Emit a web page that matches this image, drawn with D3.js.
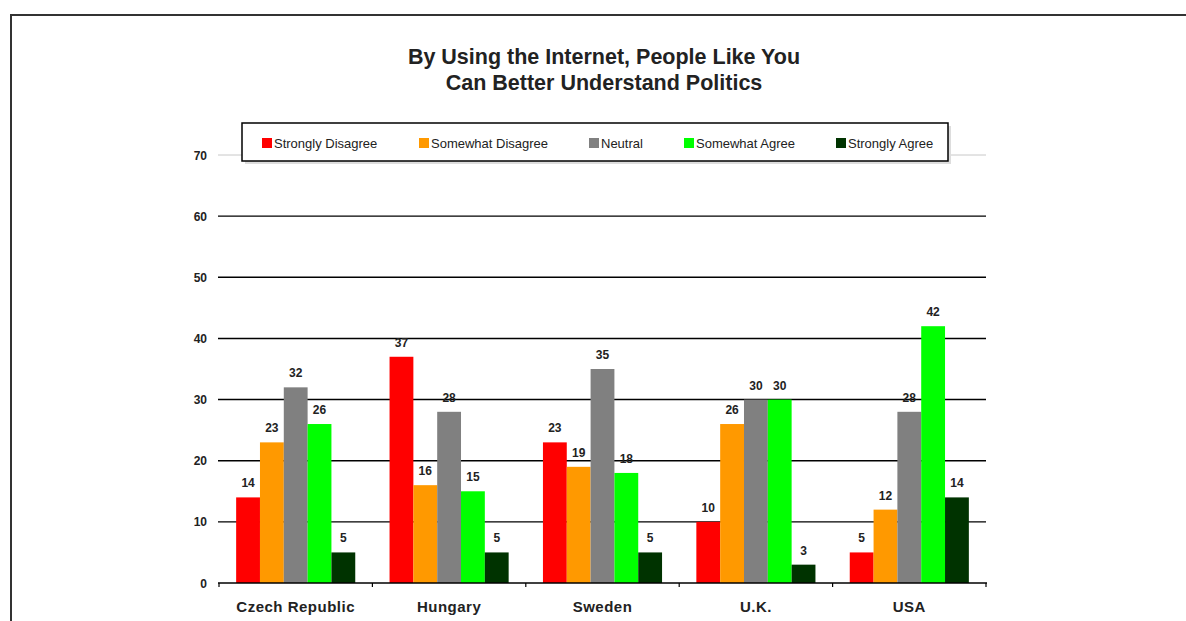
<!DOCTYPE html>
<html><head><meta charset="utf-8">
<script src="https://cdn.jsdelivr.net/npm/d3@7"></script>
<style>body{margin:0;background:#fff}svg{display:block}</style>
</head><body>
<svg id="chart" width="1186" height="621"></svg>
<script>
const categories = ["Czech Republic","Hungary","Sweden","U.K.","USA"];
const seriesNames = ["Strongly Disagree","Somewhat Disagree","Neutral","Somewhat Agree","Strongly Agree"];
const seriesColors = ["#ff0000","#ff9900","#808080","#00ff00","#003300"];
const stronglyDisagree = [14,37,23,10,5];
const somewhatDisagree = [23,16,19,26,12];
const neutral = [32,28,35,30,28];
const somewhatAgree = [26,15,18,30,42];
const stronglyAgree = [5,5,5,3,14];
const yTicks = [0,10,20,30,40,50,60,70];
const titleLines = ["By Using the Internet, People Like You","Can Better Understand Politics"];

(function(){
const series = [stronglyDisagree,somewhatDisagree,neutral,somewhatAgree,stronglyAgree];
const svg = d3.select("#chart");
const font = "'Liberation Sans', Arial, sans-serif";

svg.append("path").attr("d","M11,621 V15 H1186").attr("fill","none").attr("stroke","#333").attr("stroke-width",2);

const pl = 219, pr = 986, pt = 155, pb = 583;
const x0 = d3.scaleBand().domain(categories).range([pl,pr]).paddingInner(0).paddingOuter(0);
const x1 = d3.scaleBand().domain(seriesNames).range([0,x0.bandwidth()]).paddingInner(0).paddingOuter(0.72);
const y = d3.scaleLinear().domain([0,70]).range([pb,pt]);

svg.append("g").selectAll("line").data(yTicks.filter(t=>t>0)).join("line")
  .attr("x1",pl-1).attr("x2",pr)
  .attr("y1",d=>y(d)).attr("y2",d=>y(d))
  .attr("stroke",d=>d===70?"#c8c8c8":"#000").attr("stroke-width",d=>d===70?1:1.4);

svg.append("g").selectAll("text").data(yTicks).join("text")
  .attr("x",207).attr("y",d=>y(d)+4.5).attr("text-anchor","end")
  .attr("font-family",font).attr("font-weight","bold").attr("font-size",12).attr("fill","#222")
  .text(d=>d);

const groups = svg.append("g").selectAll("g").data(categories).join("g")
  .attr("transform",c=>`translate(${x0(c)},0)`);
groups.each(function(c,ci){
  const g = d3.select(this);
  const data = seriesNames.map((s,si)=>({s,si,v:series[si][ci]}));
  g.selectAll("rect").data(data).join("rect")
    .attr("x",d=>x1(d.s)).attr("width",x1.bandwidth())
    .attr("y",d=>y(d.v)).attr("height",d=>y(0)-y(d.v))
    .attr("fill",d=>seriesColors[d.si]);
  g.selectAll("text").data(data).join("text")
    .attr("x",d=>x1(d.s)+x1.bandwidth()/2).attr("y",d=>y(d.v)-10)
    .attr("text-anchor","middle").attr("font-family",font).attr("font-weight","bold")
    .attr("font-size",12).attr("fill","#222").text(d=>d.v);
});

svg.append("line").attr("x1",pl-1).attr("x2",pr+1).attr("y1",pb).attr("y2",pb)
  .attr("stroke","#000").attr("stroke-width",1.5);
const bounds = categories.map(c=>x0(c)).concat([pr]);
svg.append("g").selectAll("line").data(bounds).join("line")
  .attr("x1",d=>d).attr("x2",d=>d).attr("y1",pb).attr("y2",pb+4)
  .attr("stroke","#000").attr("stroke-width",1.2);
svg.append("g").selectAll("text").data(categories).join("text")
  .attr("x",c=>x0(c)+x0.bandwidth()/2).attr("y",pb+28.5).attr("text-anchor","middle")
  .attr("font-family",font).attr("font-weight","bold").attr("font-size",15)
  .attr("letter-spacing",0.5).attr("fill","#222")
  .text(c=>c);

svg.append("g").selectAll("text").data(titleLines).join("text")
  .attr("x",604).attr("y",(d,i)=>63.5+i*26.5).attr("text-anchor","middle")
  .attr("font-family",font).attr("font-weight","bold").attr("font-size",21.5).attr("fill","#222")
  .text(d=>d);

const leg = svg.append("g");
leg.append("rect").attr("x",245).attr("y",126).attr("width",706).attr("height",38).attr("fill","#ddd");
leg.append("rect").attr("x",242).attr("y",123).attr("width",706).attr("height",38)
  .attr("fill","#fff").attr("stroke","#000").attr("stroke-width",1.5);
const legX = [262,419,589,684,836];
const items = leg.selectAll("g").data(seriesNames).join("g")
  .attr("transform",(d,i)=>`translate(${legX[i]},138)`);
items.append("rect").attr("width",10).attr("height",10).attr("fill",(d,i)=>seriesColors[i]);
items.append("text").attr("x",12).attr("y",9.5).attr("font-family",font).attr("font-size",13)
  .attr("fill","#222").text(d=>d);
})();
</script>
</body></html>
